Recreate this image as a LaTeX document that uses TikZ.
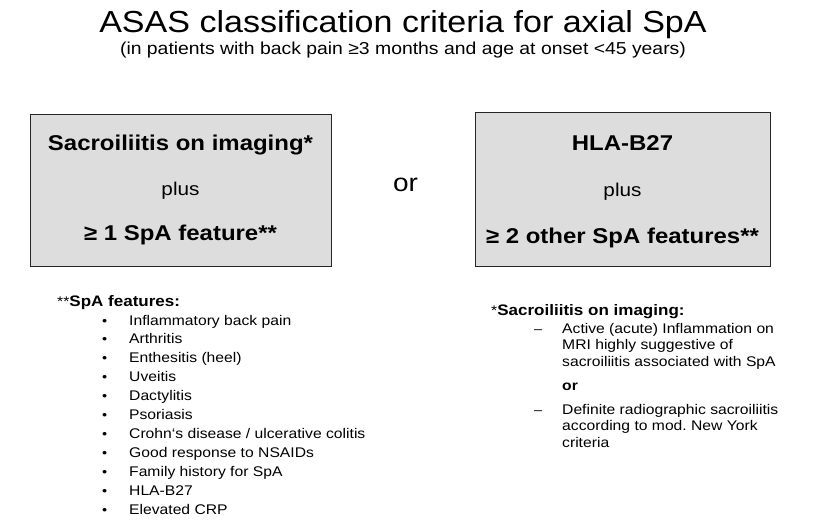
\documentclass[tikz,border=0pt]{standalone}
\usepackage{fontspec}
\setmainfont[FakeStretch=1.12]{Liberation Sans}
\usepackage{xcolor}
\usepackage{tikz}
\definecolor{ASFill}{HTML}{DDDDDD}
\definecolor{ASEdge}{HTML}{262626}

\tikzset{
  critbox/.style={draw=ASEdge,fill=ASFill,line width=1pt},
  boxtext/.style={anchor=base,inner sep=0pt,font=\fontsize{21.4}{24}\selectfont\bfseries},
  plustext/.style={anchor=base,inner sep=0pt,font=\fontsize{18.5}{22}\selectfont},
  listhead/.style={anchor=base west,inner sep=0pt,font=\fontsize{15.2}{18}\selectfont},
  listmark/.style={anchor=base west,inner sep=0pt,font=\fontsize{13}{16}\selectfont},
  listitem/.style={anchor=base west,inner sep=0pt,font=\fontsize{14}{17}\selectfont}
}

\begin{document}
\frenchspacing
\begin{tikzpicture}[x=1pt,y=-1pt]
\path[use as bounding box] (0,0) rectangle (815,531);
\fill[white] (0,0) rectangle (815,531);
\node[anchor=base,inner sep=0pt,font=\fontsize{30.4}{35}\selectfont] (title) at (403,32) {ASAS classification criteria for axial SpA};
\node[anchor=base,inner sep=0pt,font=\fontsize{17.3}{20}\selectfont] (subtitle) at (403,54) {(in patients with back pain ≥3 months and age at onset <45 years)};
\draw[critbox] (30,114) rectangle (331,266);
\node[boxtext] (imaging) at (180.5,150.5) {Sacroiliitis on imaging*};
\node[plustext] (plusa) at (180.5,195.5) {plus};
\node[boxtext] (onefeat) at (180.5,240) {≥ 1 SpA feature**};
\node[anchor=base,inner sep=0pt,font=\fontsize{25}{28}\selectfont] (or) at (405.5,191) {or};
\draw[critbox] (475,112.5) rectangle (770,266);
\node[boxtext] (hla) at (622.5,150) {HLA-B27};
\node[plustext] (plusb) at (622.5,196.5) {plus};
\node[boxtext] (twofeat) at (622.5,243) {≥ 2 other SpA features**};
\node[listhead] (spahead) at (57,306) {\fontsize{14}{17}\selectfont**\fontsize{15.2}{18}\selectfont\bfseries SpA features:};
\node[listmark] (m1) at (102,325) {•};
\node[listitem] (f1) at (129,325) {Inflammatory back pain};
\node[listmark] (m2) at (102,343.9) {•};
\node[listitem] (f2) at (129,343.9) {Arthritis};
\node[listmark] (m3) at (102,362.8) {•};
\node[listitem] (f3) at (129,362.8) {Enthesitis (heel)};
\node[listmark] (m4) at (102,381.7) {•};
\node[listitem] (f4) at (129,381.7) {Uveitis};
\node[listmark] (m5) at (102,400.6) {•};
\node[listitem] (f5) at (129,400.6) {Dactylitis};
\node[listmark] (m6) at (102,419.5) {•};
\node[listitem] (f6) at (129,419.5) {Psoriasis};
\node[listmark] (m7) at (102,438.4) {•};
\node[listitem] (f7) at (129,438.4) {Crohn‘s disease / ulcerative colitis};
\node[listmark] (m8) at (102,457.3) {•};
\node[listitem] (f8) at (129,457.3) {Good response to NSAIDs};
\node[listmark] (m9) at (102,476.2) {•};
\node[listitem] (f9) at (129,476.2) {Family history for SpA};
\node[listmark] (m10) at (102,495.1) {•};
\node[listitem] (f10) at (129,495.1) {HLA-B27};
\node[listmark] (m11) at (102,514) {•};
\node[listitem] (f11) at (129,514) {Elevated CRP};
\node[listhead] (imghead) at (491,315.5) {\fontsize{14}{17}\selectfont*\fontsize{15.2}{18}\selectfont\bfseries Sacroiliitis on imaging:};
\node[listmark] (d1) at (534,333) {–};
\node[listitem] (mri) at (562,333) {Active (acute) Inflammation on};
\node[listitem] (mri2) at (562,349.7) {MRI highly suggestive of};
\node[listitem] (mri3) at (562,366.4) {sacroiliitis associated with SpA};
\node[listitem,font=\fontsize{14}{17}\selectfont\bfseries] (orb) at (562,390) {or};
\node[listmark] (d2) at (534,414) {–};
\node[listitem] (xray) at (562,414) {Definite radiographic sacroiliitis};
\node[listitem] (xray2) at (562,430.7) {according to mod. New York};
\node[listitem] (xray3) at (562,447.4) {criteria};
\end{tikzpicture}
\end{document}
